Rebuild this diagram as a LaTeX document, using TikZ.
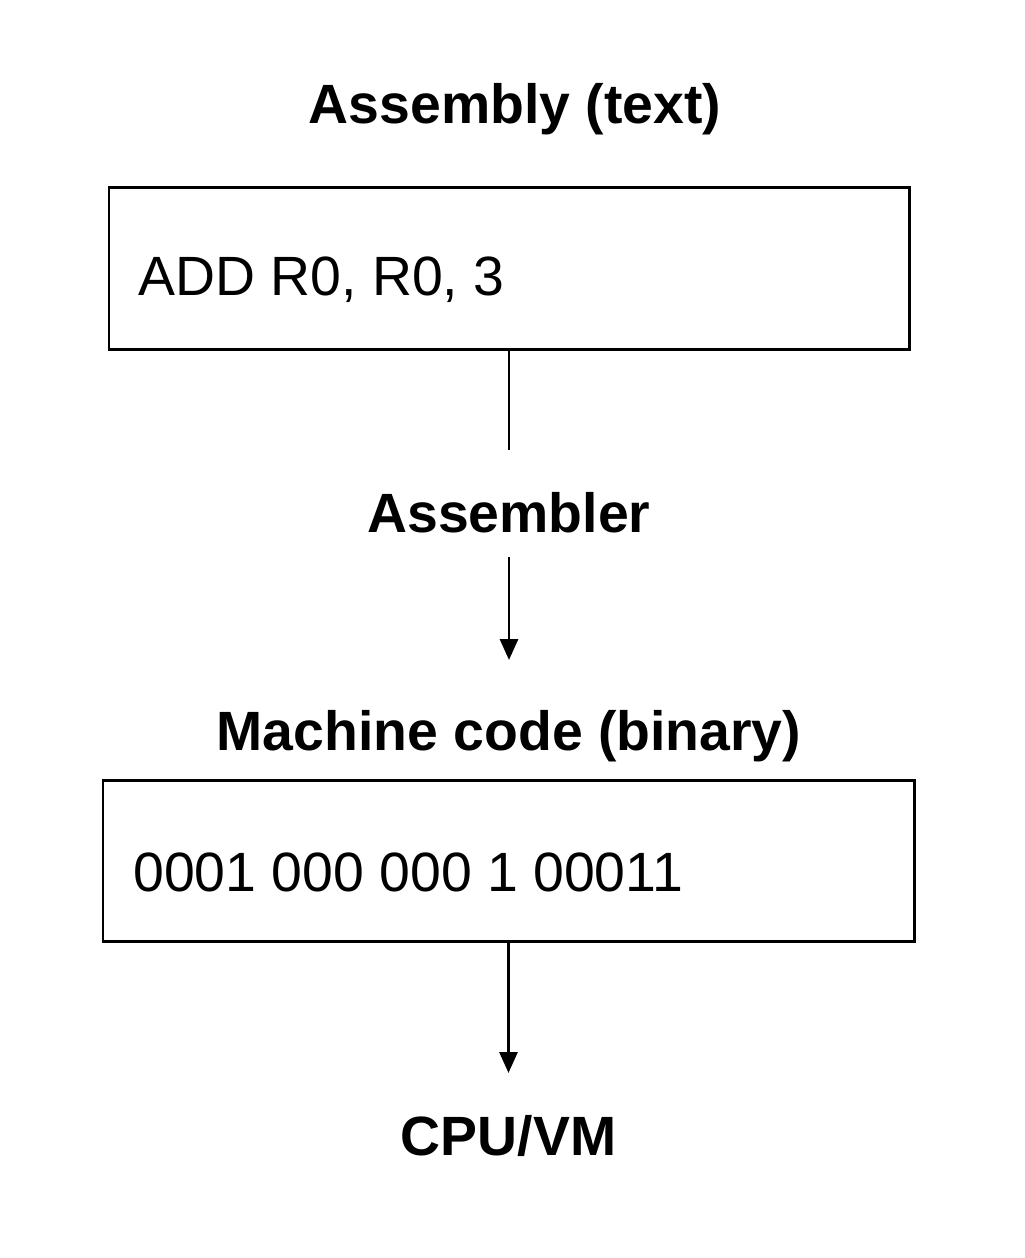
\documentclass[tikz,border=0pt]{standalone}
\usepackage{fontspec}
\setmainfont{Liberation Sans}
\usetikzlibrary{arrows.meta}
\tikzset{
  title/.style={font=\fontsize{31.5}{38}\selectfont\bfseries, anchor=base, inner sep=0pt},
  code/.style={font=\fontsize{31.5}{38}\selectfont, anchor=base west, inner sep=0pt},
  box/.style={draw, line width=1.7pt, minimum width=#1, inner sep=0pt},
  link/.style={line width=1.7pt, -{Triangle[width=0.36cm, length=0.42cm]}}
}
\begin{document}
\begin{tikzpicture}
\useasboundingbox (0,0) rectangle (20.48,-25.16);
\node [title] (asmtitle) at (10.30,-2.46) {Assembly (text)};
\node [box=16cm, minimum height=3.24cm] (asmbox) at (10.18,-5.36) {};
\node [code] (asmcode) at (2.76,-5.90) {ADD R0, R0, 3};
\node [title] (assembler) at (10.18,-10.64) {Assembler};
\node [title] (mctitle) at (10.18,-15.00) {Machine code (binary)};
\node [box=16.22cm, minimum height=3.22cm] (mcbox) at (10.17,-17.21) {};
\node [code] (mccode) at (2.66,-17.82) {0001 000 000 1 00011};
\node [title] (cpu) at (10.17,-23.10) {CPU/VM};
\coordinate (lineend) at (10.18,-9.00);
\coordinate (arrowstart) at (10.18,-11.14);
\coordinate (arrowtip) at (10.18,-13.20);
\coordinate (cputip) at (10.17,-21.46);
\draw [line width=1.7pt] (asmbox.south) -- (lineend);
\draw [link] (arrowstart) -- (arrowtip);
\draw [link] (mcbox.south) -- (cputip);
\end{tikzpicture}
\end{document}
